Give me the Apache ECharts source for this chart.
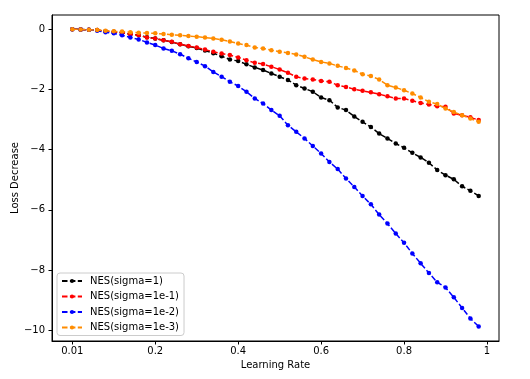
<!DOCTYPE html>
<html><head><meta charset="utf-8">
<script src="https://cdn.jsdelivr.net/npm/echarts@6/dist/echarts.min.js"></script>
<style>html,body{margin:0;padding:0;background:#fff}#c{width:530px;height:379px}</style>
</head><body><div id="c"></div>
<script>
const learningRates = [0.00,0.02,0.04,0.06,0.08,0.10,0.12,0.14,0.16,0.18,0.20,0.22,0.24,0.26,0.28,0.30,0.32,0.34,0.36,0.38,0.40,0.42,0.44,0.46,0.48,0.50,0.52,0.54,0.56,0.58,0.60,0.62,0.64,0.66,0.68,0.70,0.72,0.74,0.76,0.78,0.80,0.82,0.84,0.86,0.88,0.90,0.92,0.94,0.96,0.98];
const xTickValues = [0, 0.2, 0.4, 0.6, 0.8, 1];
const xTickLabels = ['0.01', '0.2', '0.4', '0.6', '0.8', '1'];
const yTickValues = [0, -2, -4, -6, -8, -10];
const seriesNames = ['NES(sigma=1)', 'NES(sigma=1e-1)', 'NES(sigma=1e-2)', 'NES(sigma=1e-3)'];
const seriesColors = ['#000000', '#ff0000', '#0000ff', '#ff8c00'];

const sigma1 = [0,-0.01,-0.02,-0.03,-0.07,-0.09,-0.12,-0.17,-0.20,-0.27,
  -0.31,-0.37,-0.43,-0.50,-0.57,-0.63,-0.71,-0.80,-0.90,-1.01,
  -1.06,-1.17,-1.27,-1.36,-1.47,-1.58,-1.69,-1.86,-1.97,-2.08,
  -2.27,-2.36,-2.60,-2.69,-2.90,-3.08,-3.25,-3.47,-3.63,-3.80,
  -3.94,-4.11,-4.26,-4.44,-4.68,-4.85,-4.99,-5.22,-5.37,-5.54];
const sigma1e1 = [0,-0.01,-0.02,-0.03,-0.07,-0.09,-0.12,-0.17,-0.20,-0.28,
  -0.31,-0.37,-0.42,-0.50,-0.56,-0.61,-0.68,-0.75,-0.81,-0.86,
  -0.94,-1.03,-1.12,-1.16,-1.25,-1.34,-1.45,-1.58,-1.64,-1.67,
  -1.72,-1.75,-1.86,-1.92,-2.00,-2.05,-2.10,-2.16,-2.23,-2.30,
  -2.30,-2.38,-2.45,-2.50,-2.56,-2.58,-2.80,-2.86,-2.93,-3.02];
const sigma1e2 = [0,-0.01,-0.02,-0.05,-0.10,-0.14,-0.20,-0.28,-0.34,-0.44,
  -0.53,-0.64,-0.72,-0.83,-0.97,-1.09,-1.23,-1.42,-1.58,-1.75,
  -1.89,-2.08,-2.30,-2.47,-2.69,-2.88,-3.19,-3.41,-3.63,-3.88,
  -4.13,-4.41,-4.65,-4.96,-5.24,-5.54,-5.82,-6.16,-6.46,-6.79,
  -7.10,-7.45,-7.78,-8.10,-8.41,-8.58,-8.91,-9.26,-9.61,-9.88];
const sigma1e3 = [0,-0.01,-0.02,-0.03,-0.05,-0.07,-0.08,-0.10,-0.12,-0.13,
  -0.14,-0.16,-0.19,-0.20,-0.23,-0.25,-0.28,-0.31,-0.35,-0.41,
  -0.48,-0.53,-0.61,-0.64,-0.70,-0.75,-0.79,-0.84,-0.92,-1.01,
  -1.09,-1.14,-1.22,-1.29,-1.37,-1.50,-1.56,-1.67,-1.86,-1.94,
  -2.03,-2.14,-2.27,-2.41,-2.49,-2.64,-2.75,-2.86,-2.97,-3.08];

const allValues = [sigma1, sigma1e1, sigma1e2, sigma1e3];
const FONT = 'DejaVu Sans';

const chart = echarts.init(document.getElementById('c'), null, {renderer: 'canvas'});
chart.setOption({
  animation: false,
  backgroundColor: '#ffffff',
  grid: {left: 52, right: 31, top: 15, bottom: 38, show: true, borderColor: '#000', borderWidth: 1,
         backgroundColor: 'transparent', containLabel: false, outerBoundsMode: 'none'},
  xAxis: {
    type: 'value', min: -0.049, max: 1.029,
    name: 'Learning Rate', nameLocation: 'middle', nameGap: 19, nameMoveOverlap: false,
    nameTextStyle: {fontFamily: FONT, fontSize: 10, color: '#000'},
    axisLine: {show: true, onZero: false, lineStyle: {color: '#000', width: 1}},
    axisTick: {show: true, length: 3.5, customValues: xTickValues, lineStyle: {color: '#000'}},
    axisLabel: {show: true, margin: 5, fontFamily: FONT, fontSize: 10, color: '#000',
      customValues: xTickValues,
      formatter: function (v) { const i = xTickValues.findIndex(t => Math.abs(t - v) < 1e-9); return i >= 0 ? xTickLabels[i] : ''; }},
    splitLine: {show: false}
  },
  yAxis: {
    type: 'value', min: -10.36, max: 0.47,
    name: 'Loss Decrease', nameLocation: 'middle', nameGap: 32, nameRotate: 90, nameMoveOverlap: false,
    nameTextStyle: {fontFamily: FONT, fontSize: 10, color: '#000'},
    axisLine: {show: true, onZero: false, lineStyle: {color: '#000', width: 1}},
    axisTick: {show: true, length: 3.5, customValues: yTickValues, lineStyle: {color: '#000'}},
    axisLabel: {show: true, margin: 7, fontFamily: FONT, fontSize: 10, color: '#000',
      customValues: yTickValues,
      formatter: function (v) { return String(Math.round(v)).replace('-', '\u2212'); }},
    splitLine: {show: false}
  },
  legend: {
    show: true, orient: 'vertical', left: 57, top: 273,
    padding: [3, 5, 3, 4], itemGap: 5.5, itemWidth: 20, itemHeight: 5,
    borderColor: '#cccccc', borderWidth: 1, borderRadius: 3, backgroundColor: 'rgba(255,255,255,0.8)',
    textStyle: {fontFamily: FONT, fontSize: 10, lineHeight: 10, color: '#000', padding: [0, 0, 0, 3]},
    data: seriesNames
  },
  series: seriesNames.map((name, k) => ({
    name: name, type: 'line',
    data: learningRates.map((x, i) => [x, allValues[k][i]]),
    symbol: 'circle', symbolSize: 4.5, showSymbol: true,
    lineStyle: {color: seriesColors[k], width: 1.5, type: [5.5, 2.4]},
    itemStyle: {color: seriesColors[k]},
    emphasis: {disabled: true}, z: 2 + k
  }))
});
</script>
</body></html>
